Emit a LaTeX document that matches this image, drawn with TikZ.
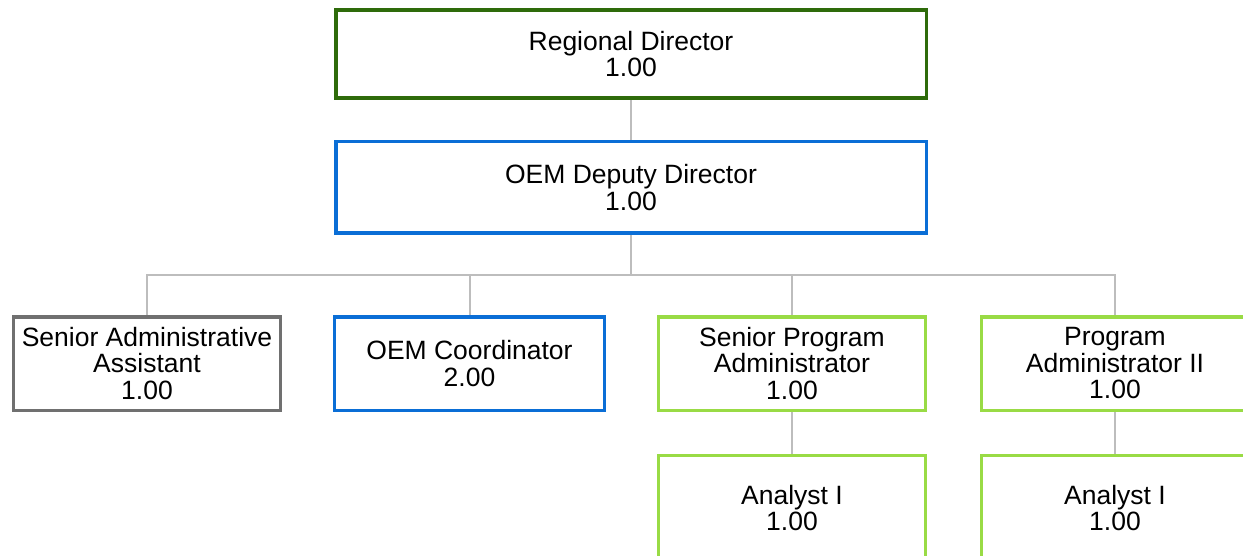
\documentclass[tikz,border=0pt]{standalone}
\usepackage{fontspec}
\setmainfont{Liberation Sans}
\usepackage{xcolor}
\usepackage{tikz}
\usetikzlibrary{backgrounds}
\definecolor{vertfonce}{HTML}{2E6B0A}
\definecolor{bleuoem}{HTML}{0A6ED6}
\definecolor{vertclair}{HTML}{99DB45}
\definecolor{grisboite}{HTML}{707070}
\definecolor{grislien}{HTML}{BDBDBD}
\tikzset{
    poste/.style = {rectangle, draw, line width=3.5pt, align=center, inner sep=0pt,
        fill=white, font=\fontsize{26.5}{26.5}\selectfont},
    large/.style = {minimum width=590.5pt, minimum height=88pt},
    etroit/.style = {minimum width=267pt, minimum height=93.5pt},
    c1/.style = {draw=vertfonce},
    c2/.style = {draw=bleuoem},
    c3/.style = {draw=vertclair},
    c4/.style = {draw=grisboite},
    lien/.style = {draw=grislien, line width=2pt}
}
\begin{document}
\begin{tikzpicture}[x=1pt, y=1pt]
    \useasboundingbox (0,0) rectangle (1243,-556);
    \node (rd) [poste, large, c1] at (631,-54) {Regional Director\\1.00};
    \node (dd) [poste, large, c2, minimum height=91.5pt] at (631,-187.5) {OEM Deputy Director\\1.00};
    \node (saa) [poste, etroit, c4] at (147,-363.5) {Senior Administrative\\Assistant\\1.00};
    \node (oc) [poste, etroit, c2, minimum width=270pt] at (469.5,-363.5) {OEM Coordinator\\2.00};
    \node (spa) [poste, etroit, c3] at (792,-363.5) {Senior Program\\Administrator\\1.00};
    \node (pa2) [poste, etroit, c3] at (1115,-363.5) {Program\\Administrator II\\1.00};
    \node (an1) [poste, etroit, c3, anchor=north, minimum height=106pt] at (792,-453.5) {Analyst I\\1.00};
    \node (an2) [poste, etroit, c3, anchor=north, minimum height=106pt] at (1115,-453.5) {Analyst I\\1.00};
    \coordinate (bus) at (dd.south |- 0,-275);
    \begin{scope}[on background layer]
        \draw[lien] (rd) -- (dd);
        \draw[lien] (dd.south) -- (bus);
        \foreach \n in {saa, oc, spa, pa2} {
                \draw[lien] (\n.north) |- (bus);
            }
        \draw[lien] (spa) -- (an1);
        \draw[lien] (pa2) -- (an2);
    \end{scope}
\end{tikzpicture}
\end{document}
